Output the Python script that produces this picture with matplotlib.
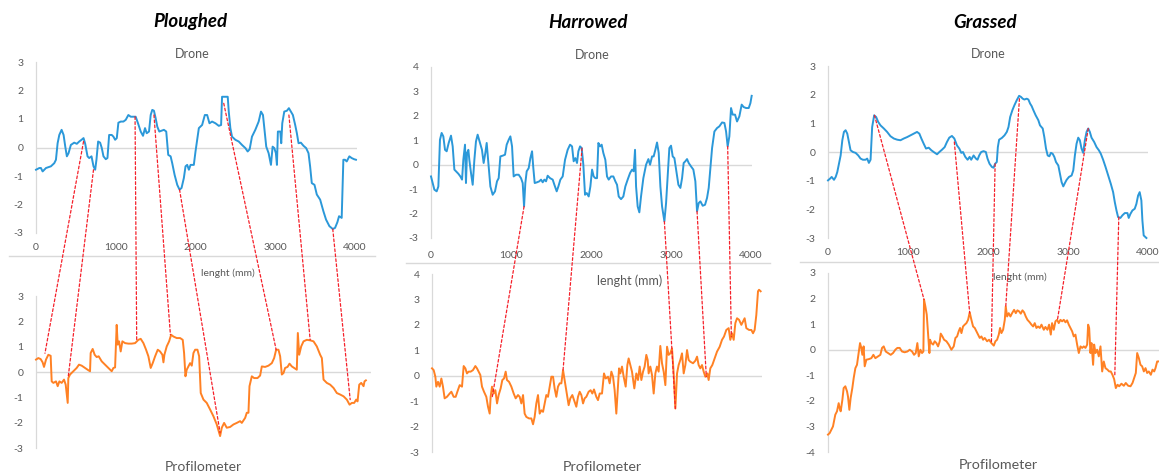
import matplotlib
matplotlib.use("Agg")
import matplotlib.pyplot as plt
from matplotlib.patches import ConnectionPatch
from matplotlib.lines import Line2D
import numpy as np

plt.rcParams['font.family'] = ['Lato', 'DejaVu Sans']

W, H = 1159, 474

# ---------------- DATA ----------------
titles = ["Ploughed", "Harrowed", "Grassed"]
x_ticks = [0, 1000, 2000, 3000, 4000]

# Ploughed - drone (length mm, height)
pl_drone_x = [0, 42, 62, 83, 125, 187, 229, 250, 271, 292, 321, 346, 367, 387, 408, 437, 479, 512, 542, 571, 596, 617, 646, 667, 696, 721, 742, 758, 779, 804, 825, 846, 875, 896, 917, 950, 971, 992, 1013, 1033, 1063, 1096, 1125, 1158, 1188, 1221, 1250, 1279, 1313, 1342, 1367, 1388, 1417, 1438, 1458, 1479, 1500, 1521, 1546, 1575, 1604, 1633, 1658, 1688, 1708, 1738, 1771, 1800, 1825, 1854, 1875, 1896, 1917, 1938, 1979, 2000, 2021, 2042, 2083, 2117, 2146, 2175, 2208, 2250, 2292, 2321, 2333, 2404, 2417, 2437, 2458, 2500, 2542, 2583, 2625, 2654, 2679, 2708, 2750, 2792, 2821, 2846, 2867, 2887, 2917, 2946, 2967, 2988, 3008, 3021, 3033, 3063, 3075, 3088, 3113, 3146, 3171, 3196, 3221, 3250, 3271, 3292, 3321, 3354, 3387, 3417, 3437, 3458, 3492, 3521, 3563, 3604, 3637, 3679, 3721, 3750, 3779, 3800, 3833, 3854, 3875, 3896, 3929, 3958, 3988, 4012]
pl_drone_y = [-0.78, -0.72, -0.72, -0.84, -0.72, -0.66, -0.55, -0.43, 0.15, 0.44, 0.62, 0.44, 0.03, -0.31, -0.2, 0.09, 0.17, 0.13, 0.21, 0.27, 0.33, 0.13, -0.31, -0.37, -0.31, -0.66, -0.78, -0.43, 0.21, 0.17, -0.02, -0.31, -0.41, -0.37, 0.44, 0.44, 0.38, 0.27, 0.33, 0.87, 0.91, 0.91, 0.97, 1.14, 1.08, 1.08, 1.08, 0.85, 0.56, 0.41, 0.68, 0.5, 0.56, 1.14, 1.32, 1.29, 1.03, 0.73, 0.56, 0.59, 0.62, 0.56, -0.26, -0.31, -0.55, -0.96, -1.31, -1.48, -1.42, -1.07, -0.66, -0.61, -0.78, -0.61, -0.61, -0.14, 0.27, 0.68, 0.79, 1.14, 1.14, 0.85, 0.91, 0.85, 0.76, 0.79, 1.78, 1.78, 1.26, 0.68, 0.38, 0.27, 0.21, 0.09, -0.02, -0.14, -0.06, 0.38, 0.62, 0.91, 1.26, 1.14, 0.56, 0.03, -0.2, -0.61, 0.03, -0.02, -0.2, -0.61, 0.56, 0.56, 0.15, 0.85, 1.26, 1.29, 1.38, 1.26, 1.14, 0.79, 0.5, 0.15, 0.17, 0.06, -0.02, -0.2, -0.66, -1.25, -1.31, -1.65, -1.83, -2.24, -2.53, -2.76, -2.86, -2.82, -2.62, -2.41, -2.47, -0.43, -0.43, -0.49, -0.31, -0.37, -0.41, -0.43]

# Ploughed - profilometer
pl_prof_x = [0, 29, 58, 83, 100, 125, 154, 183, 196, 217, 250, 271, 292, 321, 350, 371, 383, 396, 404, 425, 467, 508, 537, 571, 612, 654, 675, 683, 708, 733, 758, 783, 821, 862, 904, 946, 967, 988, 1008, 1021, 1038, 1058, 1079, 1113, 1154, 1196, 1238, 1279, 1308, 1342, 1375, 1404, 1433, 1458, 1488, 1521, 1550, 1579, 1592, 1604, 1633, 1663, 1688, 1717, 1758, 1800, 1833, 1850, 1867, 1883, 1904, 1925, 1946, 1967, 1988, 2017, 2038, 2058, 2092, 2133, 2175, 2217, 2258, 2283, 2300, 2321, 2350, 2383, 2425, 2467, 2508, 2550, 2571, 2613, 2633, 2654, 2667, 2696, 2725, 2767, 2800, 2821, 2862, 2904, 2946, 2975, 3000, 3029, 3050, 3071, 3092, 3112, 3142, 3167, 3196, 3225, 3258, 3271, 3288, 3313, 3342, 3383, 3425, 3467, 3508, 3550, 3571, 3592, 3633, 3675, 3717, 3758, 3800, 3842, 3883, 3917, 3946, 3975, 4000, 4017, 4038, 4063, 4092, 4104, 4121]
pl_prof_y = [0.49, 0.55, 0.51, 0.38, 0.2, 0.49, 0.68, 0.64, -0.37, -0.43, -0.37, -0.56, -0.37, -0.43, -0.3, -0.5, -0.83, -1.22, -0.24, -0.1, 0.03, 0.16, 0.29, 0.25, 0.16, 0.07, 0.03, 0.75, 0.91, 0.68, 0.59, 0.62, 0.42, 0.29, 0.16, 0.03, 0.16, 0.18, 1.86, 1.08, 1.21, 0.81, 1.21, 1.14, 1.12, 1.12, 1.14, 1.27, 1.31, 1.14, 0.88, 0.62, 0.16, 0.35, 0.62, 0.88, 0.81, 0.68, 0.38, 0.68, 1.01, 1.21, 1.47, 1.4, 1.34, 1.34, 1.27, 0.75, -0.17, 0.09, 0.22, 0.35, 0.25, 0.75, 0.88, 0.88, 0.62, -0.83, -1.09, -1.22, -1.48, -1.75, -2.07, -2.34, -2.53, -2.2, -2.01, -2.2, -2.17, -2.07, -2.01, -1.94, -2.01, -1.81, -1.61, -1.61, -0.56, -0.17, -0.24, -0.24, -0.14, 0.22, 0.2, 0.25, 0.35, 0.55, 0.88, 0.88, 0.62, -0.1, -0.04, 0.16, 0.2, 0.33, 0.22, 0.16, 0.09, 1.54, 0.68, 1.01, 1.21, 1.27, 1.25, 1.21, 1.01, 0.68, 0.55, -0.3, -0.43, -0.5, -0.63, -0.83, -0.89, -0.96, -1.09, -1.29, -1.22, -1.22, -1.09, -1.16, -0.5, -0.43, -0.56, -0.37, -0.33]

# Harrowed - drone
ha_drone_x = [0, 21, 42, 71, 92, 112, 133, 154, 175, 196, 221, 250, 271, 292, 312, 342, 367, 388, 404, 425, 437, 450, 467, 479, 500, 521, 542, 562, 583, 612, 637, 658, 679, 696, 717, 742, 771, 800, 825, 846, 867, 896, 925, 946, 971, 992, 1013, 1033, 1063, 1096, 1125, 1146, 1163, 1179, 1196, 1221, 1242, 1263, 1279, 1296, 1325, 1354, 1375, 1396, 1417, 1438, 1458, 1488, 1521, 1542, 1571, 1592, 1617, 1646, 1675, 1708, 1738, 1763, 1783, 1804, 1825, 1842, 1863, 1883, 1904, 1925, 1946, 1971, 1992, 2013, 2033, 2054, 2075, 2092, 2113, 2133, 2154, 2179, 2200, 2221, 2250, 2279, 2304, 2325, 2346, 2375, 2404, 2429, 2458, 2488, 2513, 2533, 2550, 2563, 2583, 2604, 2625, 2654, 2688, 2717, 2738, 2763, 2783, 2804, 2825, 2846, 2867, 2888, 2917, 2938, 2958, 2979, 3000, 3021, 3042, 3063, 3092, 3117, 3138, 3158, 3179, 3200, 3221, 3250, 3279, 3304, 3325, 3346, 3367, 3396, 3425, 3450, 3471, 3492, 3513, 3542, 3575, 3604, 3638, 3667, 3688, 3708, 3729, 3750, 3771, 3800, 3825, 3854, 3883, 3908, 3938, 3971, 3992, 4008]
ha_drone_y = [-0.48, -0.75, -1.02, -1.09, -0.89, 1.02, 1.3, 1.16, 0.61, 0.55, 0.89, 1.19, 0.75, -0.2, -0.27, -0.37, -0.48, -0.61, 0.2, 0.82, -0.75, 0.48, 0.61, 0.2, -0.34, -0.82, 0.2, 0.95, 1.23, 0.89, 0.61, 0.07, 0.48, 0.89, 0.07, -0.89, -1.23, -1.09, -0.68, -0.55, 0.34, 0.37, 0.41, 0.82, 1.02, 1.16, 0.75, -0.48, -0.41, -0.41, -0.55, -0.75, -1.71, -0.75, -0.27, -0.14, 0.27, 0.55, -0.14, -0.75, -0.72, -0.68, -0.61, -0.72, -0.61, -0.68, -0.45, -0.55, -0.61, -0.82, -1.09, -0.89, -0.61, -0.48, 0.2, 0.61, 0.82, 0.75, 0.14, 0.27, 0.07, 0.55, 0.75, 0.68, 0.0, -1.23, -1.16, -1.3, -0.89, -0.2, -0.48, -0.55, -0.55, 0.89, 0.75, 0.82, 0.48, 0.2, -0.48, -0.61, -0.48, -0.48, -0.68, -0.82, -1.3, -1.41, -1.3, -0.89, -0.61, -0.34, -0.2, -0.27, 0.61, -0.89, -1.71, -1.95, -1.3, -0.55, 0.0, 0.23, 0.0, 0.34, 0.34, 0.61, 0.91, 0.48, -0.89, -1.71, -2.32, -1.57, -0.48, 0.68, 0.78, 0.34, 0.27, -0.2, -0.82, -0.95, -0.55, 0.07, 0.14, 0.23, 0.07, -0.07, -0.2, -0.68, -1.91, -1.57, -1.5, -1.68, -1.64, -1.36, -0.95, -0.14, 0.68, 1.36, 1.5, 1.57, 1.73, 1.71, 1.36, 0.75, 1.16, 2.32, 2.05, 2.05, 1.77, 1.98, 2.46, 2.36, 2.32, 2.32, 2.52, 2.82]

# Harrowed - profilometer
ha_prof_x = [0, 21, 42, 54, 75, 96, 117, 137, 158, 187, 221, 242, 271, 296, 317, 346, 375, 396, 417, 437, 458, 483, 512, 542, 562, 583, 604, 625, 650, 679, 700, 721, 733, 750, 771, 792, 813, 833, 858, 879, 900, 921, 937, 963, 992, 1021, 1046, 1075, 1096, 1117, 1138, 1158, 1179, 1213, 1242, 1263, 1283, 1304, 1325, 1346, 1367, 1388, 1408, 1429, 1450, 1471, 1492, 1513, 1533, 1554, 1575, 1596, 1617, 1638, 1658, 1679, 1708, 1729, 1754, 1783, 1804, 1825, 1846, 1867, 1888, 1908, 1929, 1958, 1983, 2004, 2025, 2054, 2075, 2096, 2125, 2150, 2171, 2200, 2221, 2242, 2263, 2283, 2304, 2325, 2338, 2354, 2375, 2396, 2421, 2442, 2458, 2479, 2500, 2529, 2554, 2575, 2596, 2617, 2638, 2658, 2679, 2696, 2708, 2729, 2750, 2771, 2792, 2812, 2833, 2854, 2875, 2896, 2917, 2938, 2958, 2979, 3000, 3021, 3042, 3063, 3083, 3104, 3125, 3146, 3167, 3188, 3208, 3229, 3263, 3292, 3313, 3333, 3354, 3375, 3396, 3417, 3442, 3458, 3479, 3504, 3533, 3563, 3596, 3625, 3650, 3679, 3708, 3729, 3750, 3771, 3792, 3813, 3838, 3867, 3888, 3908, 3929, 3963, 3992, 4013, 4033, 4054, 4075, 4088, 4108]
ha_prof_y = [0.29, 0.22, -0.04, -0.43, -0.24, -0.43, -0.11, -0.43, -0.89, -0.83, -0.7, -0.63, -0.83, -0.83, -0.63, -0.37, -0.43, 0.38, 0.29, 0.09, 0.16, 0.16, 0.22, 0.38, 0.29, 0.16, 0.03, -0.43, -0.63, -0.83, -1.22, -1.49, -0.83, -0.43, -0.7, -0.57, -1.09, -0.76, -0.5, -0.17, -0.11, 0.16, -0.17, -0.24, -0.43, -0.7, -0.89, -0.76, -0.83, -1.09, -0.76, -1.49, -1.62, -1.68, -1.68, -1.91, -1.62, -1.09, -0.76, -1.49, -1.36, -1.42, -1.09, -0.76, -0.83, -0.43, -0.04, -0.04, -0.5, -0.83, -0.43, -0.3, -0.3, 0.22, -0.17, -0.57, -1.16, -0.89, -0.76, -1.03, -1.22, -0.83, -0.63, -0.76, -1.09, -0.89, -0.83, -0.63, -0.57, -0.7, -0.54, -0.83, -0.96, -0.7, -0.7, 0.09, -0.11, -0.04, -0.3, 0.16, -0.04, -0.57, -1.49, -0.43, 0.29, 0.09, 0.36, -0.04, -0.43, 0.42, 0.68, 0.42, 0.16, -0.5, 0.09, -0.17, 0.36, -0.17, 0.16, 0.36, 0.82, 0.62, 0.09, 0.36, 0.03, -0.7, 0.09, 0.36, 0.16, 1.17, 0.49, 0.16, -0.37, 1.14, 0.82, 0.88, 1.08, 0.09, -1.29, 0.09, 0.42, 0.62, 0.88, 0.09, 0.42, 1.01, 0.62, 0.55, 0.49, 0.59, 0.75, 0.42, 0.29, 0.42, 0.16, -0.04, 0.09, -0.17, 0.29, 0.42, 0.68, 0.95, 1.14, 1.41, 1.54, 1.8, 1.87, 1.41, 1.67, 1.41, 2.07, 2.26, 2.2, 2.0, 2.13, 2.26, 1.87, 1.8, 1.8, 1.67, 1.8, 2.39, 3.32, 3.38, 3.32]

# Grassed - drone
gr_drone_x = [0, 25, 46, 75, 96, 116, 137, 158, 179, 199, 220, 241, 262, 282, 312, 345, 378, 407, 436, 469, 490, 511, 532, 552, 577, 602, 627, 656, 698, 739, 781, 823, 864, 906, 947, 989, 1030, 1072, 1113, 1142, 1167, 1196, 1225, 1259, 1292, 1321, 1363, 1392, 1425, 1458, 1487, 1516, 1549, 1579, 1612, 1641, 1666, 1687, 1716, 1745, 1770, 1790, 1820, 1849, 1869, 1890, 1915, 1944, 1973, 1994, 2019, 2048, 2069, 2089, 2110, 2123, 2139, 2173, 2206, 2235, 2256, 2277, 2305, 2330, 2360, 2389, 2413, 2434, 2455, 2484, 2505, 2526, 2546, 2567, 2596, 2629, 2650, 2684, 2704, 2725, 2746, 2767, 2787, 2808, 2829, 2850, 2879, 2899, 2920, 2941, 2962, 2983, 3012, 3045, 3066, 3086, 3107, 3128, 3148, 3169, 3190, 3211, 3232, 3253, 3273, 3294, 3327, 3357, 3386, 3410, 3439, 3469, 3502, 3535, 3564, 3585, 3606, 3626, 3655, 3680, 3710, 3743, 3759, 3780, 3805, 3834, 3855, 3876, 3896, 3917, 3930, 3946, 3980]
gr_drone_y = [-0.99, -0.93, -0.87, -0.97, -0.87, -0.7, -0.41, -0.12, 0.41, 0.7, 0.76, 0.64, 0.35, 0.06, 0.0, -0.03, -0.12, -0.23, -0.27, -0.27, -0.23, -0.38, -0.27, 0.87, 1.28, 1.22, 1.05, 0.93, 0.82, 0.7, 0.55, 0.47, 0.43, 0.41, 0.47, 0.52, 0.58, 0.64, 0.7, 0.64, 0.47, 0.29, 0.12, 0.15, 0.06, 0.0, -0.08, 0.0, 0.08, 0.17, 0.35, 0.5, 0.56, 0.47, 0.23, 0.12, -0.03, 0.0, -0.17, -0.27, -0.17, -0.27, -0.12, -0.23, -0.27, -0.12, 0.0, 0.03, 0.0, -0.23, -0.41, -0.52, -0.55, -0.41, -0.35, 0.17, 0.43, 0.49, 0.58, 0.7, 0.87, 1.22, 1.46, 1.63, 1.81, 1.96, 1.92, 1.86, 1.83, 1.86, 1.83, 1.69, 1.6, 1.46, 1.28, 1.11, 0.93, 0.82, 0.52, 0.12, -0.12, -0.15, -0.03, -0.06, -0.17, -0.35, -0.47, -0.76, -1.05, -1.2, -1.08, -0.97, -0.87, -0.82, -0.64, -0.12, 0.29, 0.5, 0.41, 0.12, -0.03, 0.41, 0.7, 0.82, 0.7, 0.5, 0.35, 0.17, 0.06, -0.06, -0.27, -0.52, -0.82, -1.11, -1.4, -1.75, -2.04, -2.27, -2.3, -2.21, -2.13, -2.13, -2.3, -2.16, -2.04, -1.98, -1.81, -1.52, -1.4, -1.69, -2.39, -2.91, -3.0]

# Grassed - profilometer
gr_prof_x = [0, 21, 42, 62, 75, 91, 112, 133, 145, 158, 179, 195, 216, 237, 249, 266, 282, 303, 320, 341, 361, 382, 399, 415, 428, 444, 457, 478, 507, 540, 565, 590, 623, 652, 673, 694, 719, 748, 781, 810, 839, 864, 893, 922, 955, 989, 1018, 1047, 1072, 1093, 1113, 1130, 1151, 1171, 1188, 1196, 1213, 1230, 1246, 1263, 1271, 1288, 1309, 1329, 1350, 1371, 1392, 1404, 1425, 1446, 1475, 1504, 1537, 1566, 1587, 1608, 1628, 1645, 1662, 1682, 1703, 1724, 1745, 1765, 1786, 1807, 1828, 1849, 1869, 1890, 1911, 1932, 1952, 1982, 2006, 2035, 2065, 2085, 2106, 2127, 2143, 2160, 2181, 2202, 2214, 2231, 2251, 2272, 2293, 2318, 2339, 2359, 2380, 2401, 2422, 2443, 2463, 2484, 2513, 2534, 2555, 2575, 2596, 2617, 2638, 2659, 2688, 2708, 2733, 2754, 2775, 2791, 2812, 2833, 2854, 2874, 2895, 2916, 2937, 2958, 2978, 2999, 3020, 3041, 3061, 3082, 3103, 3124, 3145, 3166, 3186, 3207, 3228, 3240, 3253, 3269, 3282, 3302, 3315, 3332, 3352, 3373, 3394, 3415, 3435, 3456, 3481, 3502, 3522, 3543, 3564, 3585, 3606, 3627, 3655, 3685, 3709, 3739, 3768, 3793, 3813, 3834, 3851, 3872, 3892, 3913, 3934, 3955, 3975, 3996, 4021, 4042, 4063, 4079, 4100, 4121, 4150]
gr_prof_y = [-3.32, -3.26, -3.13, -3.0, -2.8, -2.54, -2.41, -2.09, -2.28, -2.41, -1.96, -1.5, -1.43, -1.63, -1.83, -2.35, -1.89, -1.5, -1.11, -0.72, -0.59, -0.13, 0.26, 0.07, -0.2, 0.13, -0.65, -0.39, -0.37, -0.33, -0.2, -0.33, -0.26, -0.2, 0.07, 0.13, -0.07, -0.13, -0.2, -0.13, 0.0, 0.07, 0.07, -0.07, -0.1, -0.07, 0.0, -0.07, -0.2, -0.13, 0.26, -0.26, 0.0, -0.13, -0.07, 1.96, 1.69, 1.37, 0.65, -0.13, 0.39, 0.26, 0.2, 0.33, 0.26, 0.13, 0.33, 0.63, 0.52, 0.39, 0.33, 0.2, 0.0, 0.13, 0.46, 0.52, 0.72, 0.85, 0.65, 0.91, 0.98, 1.04, 1.17, 1.46, 1.17, 0.91, 0.85, 0.72, 0.59, 0.46, 0.52, 0.39, 0.46, 0.33, 0.39, 0.26, 0.16, 0.33, 0.39, 0.59, 0.85, 0.65, 0.78, 1.17, 1.69, 1.3, 1.43, 1.3, 1.43, 1.56, 1.43, 1.54, 1.5, 1.41, 1.54, 1.46, 1.3, 1.17, 1.07, 0.98, 0.91, 1.04, 0.85, 0.91, 0.85, 0.98, 0.78, 0.89, 0.78, 0.98, 0.59, 1.04, 0.78, 1.11, 1.17, 1.04, 1.17, 1.11, 1.17, 1.07, 1.15, 0.98, 0.85, 0.72, 0.52, 0.59, 0.2, -0.13, 0.13, 0.07, 0.13, 0.07, 0.2, 0.98, 0.85, -0.13, 0.26, -0.59, 0.2, -0.13, 0.0, -0.26, 0.13, -0.85, -0.46, -0.72, -0.78, -0.85, -0.85, -0.98, -1.15, -1.5, -1.37, -1.43, -1.33, -1.41, -1.3, -1.41, -1.43, -1.3, -1.11, -0.91, -0.13, -0.33, -0.59, -0.65, -0.85, -0.72, -0.91, -0.85, -0.98, -0.78, -0.85, -0.72, -0.46, -0.46, -0.4]

# correspondence links: (drone x, drone y) -> (profilometer x, profilometer y)
pl_links_drone = [(596, 0.21), (721, -0.78), (1242, 1.08), (1479, 1.14), (1800, -1.48), (2354, 1.55), (3171, 1.14), (3721, -2.86)]
pl_links_prof = [(112, 0.74), (404, -0.15), (1258, 1.27), (1679, 1.47), (2300, -2.4), (3000, 0.88), (3425, 1.27), (3925, -1.09)]
ha_links_drone = [(1163, -1.71), (1888, 0.68), (2917, -2.32), (3325, -1.91), (3708, 0.75)]
ha_links_prof = [(750, -0.9), (1638, 0.22), (3042, -1.29), (3429, -0.04), (3742, 1.54)]
gr_links_drone = [(581, 1.28), (1579, 0.35), (2089, -0.41), (2393, 1.86), (3253, 0.82), (3635, -2.27)]
gr_links_prof = [(1196, 1.96), (1765, 1.43), (2035, 0.26), (2214, 1.69), (2858, 1.17), (3572, -1.04)]

# ---------------- STYLE ----------------
BLUE = "#2B98D9"
ORANGE = "#FF8124"
RED = "#F5202A"
GRAY_TXT = "#595959"
GRID = "#D9D9D9"

fig = plt.figure(figsize=(W / 100, H / 100), dpi=100)


def add_ax(x0, x1, y0, y1):
    return fig.add_axes([x0 / W, 1 - y1 / H, (x1 - x0) / W, (y1 - y0) / H])


def style(ax, xlim, ylim, yticks, xticks=None, xpad=8):
    ax.set_xlim(*xlim)
    ax.set_ylim(*ylim)
    ax.patch.set_alpha(0)
    for s in ["top", "right", "bottom"]:
        ax.spines[s].set_visible(False)
    ax.spines["left"].set_color(GRID)
    ax.spines["left"].set_linewidth(0.9)
    ax.axhline(0, color=GRID, lw=1.0, zorder=1)
    ax.set_yticks(yticks)
    ax.set_yticklabels([str(v) for v in yticks])
    ax.tick_params(axis="y", length=0, pad=9, labelsize=7.5, labelcolor=GRAY_TXT)
    if xticks is None:
        ax.set_xticks([])
    else:
        ax.set_xticks(xticks)
        ax.set_xticklabels([str(v) for v in xticks])
        ax.tick_params(axis="x", length=0, pad=xpad, labelsize=7.5, labelcolor=GRAY_TXT)


panels = [
    dict(title=titles[0], tx=190,
         dbox=(36, 357, 62, 233), dxlim=(0, 4025), dylim=(-3, 3), dyt=list(range(-3, 4)), dpad=7,
         pbox=(36, 371, 296, 448), pxlim=(0, 4185), pylim=(-3, 3), pyt=list(range(-3, 4)),
         dx=pl_drone_x, dy=pl_drone_y, px=pl_prof_x, py=pl_prof_y,
         la=pl_links_drone, lb=pl_links_prof,
         drone_xy=(192, 54), len_xy=(228, 273), len_fs=7.5, prof_xy=(203, 467), prof_fs=10,
         sep=(9, 375, 256)),
    dict(title=titles[1], tx=588,
         dbox=(431, 752, 67, 238), dxlim=(0, 4012), dylim=(-3, 4), dyt=list(range(-3, 5)), dpad=9,
         pbox=(432, 762, 274, 452), pxlim=(0, 4125), pylim=(-3, 4), pyt=list(range(-3, 5)),
         dx=ha_drone_x, dy=ha_drone_y, px=ha_prof_x, py=ha_prof_y,
         la=ha_links_drone, lb=ha_links_prof,
         drone_xy=(592, 55), len_xy=(630, 281), len_fs=9, prof_xy=(602, 467), prof_fs=10.3,
         sep=(406, 770, 263)),
    dict(title=titles[2], tx=985,
         dbox=(828, 1148, 66, 238), dxlim=(0, 4000), dylim=(-3, 3), dyt=list(range(-3, 4)), dpad=7,
         pbox=(828, 1166, 273, 452), pxlim=(0, 4210), pylim=(-4, 3), pyt=list(range(-4, 4)),
         dx=gr_drone_x, dy=gr_drone_y, px=gr_prof_x, py=gr_prof_y,
         la=gr_links_drone, lb=gr_links_prof,
         drone_xy=(988, 54), len_xy=(1020, 277), len_fs=7.5, prof_xy=(998, 465), prof_fs=10.3,
         sep=(800, 1159, 262)),
]

for p in panels:
    axd = add_ax(*p["dbox"])
    style(axd, p["dxlim"], p["dylim"], p["dyt"], x_ticks, xpad=p["dpad"])
    axd.plot(p["dx"], p["dy"], color=BLUE, lw=1.4, zorder=3, clip_on=False)

    axp = add_ax(*p["pbox"])
    style(axp, p["pxlim"], p["pylim"], p["pyt"])
    axp.plot(p["px"], p["py"], color=ORANGE, lw=1.4, zorder=3, clip_on=False)

    for a, b in zip(p["la"], p["lb"]):
        con = ConnectionPatch(xyA=a, coordsA="data", axesA=axd,
                              xyB=b, coordsB="data", axesB=axp,
                              color=RED, lw=0.9, linestyle=(0, (2.2, 1.8)), zorder=10)
        fig.add_artist(con)

    # separator line below the drone chart
    x0, x1, y = p["sep"]
    fig.add_artist(Line2D([x0 / W, x1 / W], [1 - y / H, 1 - y / H],
                          color=GRID, lw=1.0, transform=fig.transFigure))

    fig.text(p["tx"] / W, 1 - 22 / H, p["title"], ha="center", va="center",
             fontsize=13.5, fontweight="bold", fontstyle="italic", color="black")
    fig.text(p["drone_xy"][0] / W, 1 - p["drone_xy"][1] / H, "Drone", ha="center", va="center",
             fontsize=9, color=GRAY_TXT)
    fig.text(p["len_xy"][0] / W, 1 - p["len_xy"][1] / H, "lenght (mm)", ha="center", va="center",
             fontsize=p["len_fs"], color=GRAY_TXT)
    fig.text(p["prof_xy"][0] / W, 1 - p["prof_xy"][1] / H, "Profilometer", ha="center", va="center",
             fontsize=p["prof_fs"], color=GRAY_TXT)

fig.savefig("out.png", dpi=100)
